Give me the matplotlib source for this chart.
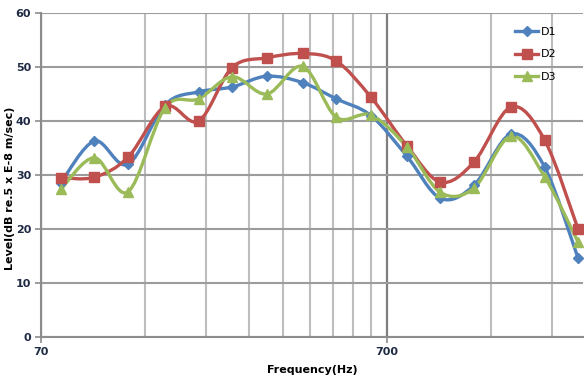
import numpy as np
import matplotlib.pyplot as plt
from matplotlib.path import Path
from matplotlib.patches import PathPatch
from matplotlib.ticker import FixedLocator, NullFormatter, FixedFormatter

# third-octave band centres (Hz)
freqs = [80, 100, 125, 160, 200, 250, 315, 400, 500, 630, 800, 1000, 1250, 1600, 2000, 2500]

d1 = [28.6, 36.3, 32.0, 43.0, 45.4, 46.3, 48.3, 47.1, 44.1, 41.0, 33.5, 25.7, 28.1, 37.6, 31.5, 14.6]
d2 = [29.5, 29.6, 33.3, 42.7, 40.0, 49.9, 51.7, 52.5, 51.1, 44.4, 35.4, 28.7, 32.4, 42.6, 36.5, 20.0]
d3 = [27.4, 33.2, 26.9, 42.5, 44.1, 48.2, 45.0, 50.1, 40.7, 41.1, 35.2, 26.8, 27.6, 37.2, 29.7, 17.6]

series = [("D1", d1, "#4F81BD", "D", 5),
          ("D2", d2, "#C0504D", "s", 7),
          ("D3", d3, "#9BBB59", "^", 7)]


def smooth_path(x, y):
    # cubic bezier through the points (excel-like smoothed line), in log-x space
    lx = np.log10(x)
    y = np.asarray(y, dtype=float)
    n = len(lx)
    verts = [(x[0], y[0])]
    codes = [Path.MOVETO]
    for i in range(n - 1):
        i0 = max(i - 1, 0)
        i3 = min(i + 2, n - 1)
        c1x = lx[i] + (lx[i + 1] - lx[i0]) / 6
        c1y = y[i] + (y[i + 1] - y[i0]) / 6
        c2x = lx[i + 1] - (lx[i3] - lx[i]) / 6
        c2y = y[i + 1] - (y[i3] - y[i]) / 6
        verts += [(10 ** c1x, c1y), (10 ** c2x, c2y), (x[i + 1], y[i + 1])]
        codes += [Path.CURVE4] * 3
    return Path(verts, codes)


fig = plt.figure(figsize=(5.84, 3.81), dpi=100)
ax = fig.add_axes([0.070, 0.115, 0.929, 0.851])
ax.set_xscale("log")

for name, vals, col, mk, ms in series:
    ax.add_patch(PathPatch(smooth_path(freqs, vals), facecolor="none",
                           edgecolor=col, lw=2.4, zorder=3))
    ax.plot(freqs, vals, linestyle="none", marker=mk, ms=ms, color=col, zorder=4)
    # legend proxy
    ax.plot([], [], color=col, lw=2.4, marker=mk, ms=ms, label=name)

ax.set_xlim(70, 2590)
ax.set_ylim(0, 60)

ax.xaxis.set_major_locator(FixedLocator([70, 700]))
ax.xaxis.set_major_formatter(FixedFormatter(["70", "700"]))
minors = [70 * k for k in range(2, 10)] + [700 * k for k in range(2, 4)]
ax.xaxis.set_minor_locator(FixedLocator(minors))
ax.xaxis.set_minor_formatter(NullFormatter())
ax.set_yticks(range(0, 61, 10))

ax.grid(True, which="major", axis="y", color="#9C9C9C", lw=1.5)
ax.grid(True, which="major", axis="x", color="#7F7F7F", lw=1.6)
ax.grid(True, which="minor", axis="x", color="#BDBDBD", lw=1.5)
ax.set_axisbelow(True)

for s in ["top", "right"]:
    ax.spines[s].set_visible(False)
for s in ["left", "bottom"]:
    ax.spines[s].set_color("#8C8C8C")
    ax.spines[s].set_linewidth(1.5)

ax.tick_params(axis="both", which="major", length=4, color="#8C8C8C", width=1.2,
               labelsize=8, pad=3)
ax.tick_params(axis="x", which="minor", length=0)
for lab in ax.get_xticklabels() + ax.get_yticklabels():
    lab.set_fontweight("bold")
    lab.set_color("#1F2A44")

ax.set_xlabel("Frequency(Hz)", fontsize=8, fontweight="bold", labelpad=6)
ax.set_ylabel("Level(dB re.5 x E-8 m/sec)", fontsize=8, fontweight="bold", labelpad=6)
ax.yaxis.set_label_coords(-0.048, 0.46)

ax.legend(loc="upper right", bbox_to_anchor=(0.965, 0.98), frameon=False,
          fontsize=8, handlelength=2.0, labelspacing=1.1, borderaxespad=0.3,
          handletextpad=0.3)

fig.savefig("out.png", dpi=100)
